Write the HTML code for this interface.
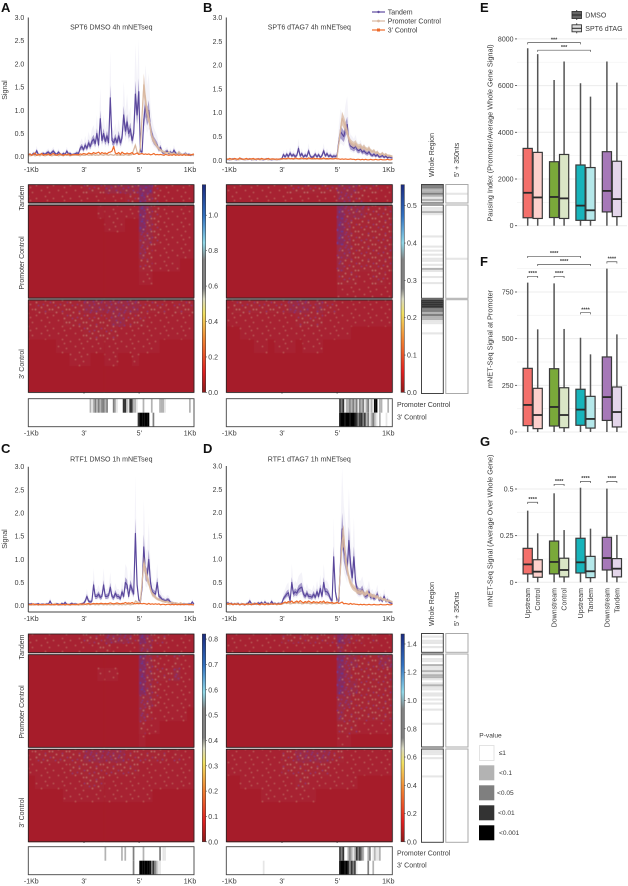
<!DOCTYPE html>
<html lang="en">
<head>
<meta charset="utf-8">
<title>mNET-seq signal figure</title>
<style>
html,body{margin:0;padding:0;background:#fff;}
svg{display:block;font-family:"Liberation Sans",sans-serif;}
text{fill:#3a3a3a;}
.letter{font-size:13px;font-weight:bold;fill:#111;}
</style>
</head>
<body>
<svg id="figure" xmlns="http://www.w3.org/2000/svg" width="628" height="886" viewBox="0 0 628 886">
<defs>
<filter id="soft" x="-2%" y="-2%" width="104%" height="104%"><feGaussianBlur stdDeviation="0.45"/></filter>
<linearGradient id="cbar" x1="0" y1="1" x2="0" y2="0">
<stop offset="0" stop-color="#8b1a1a"/><stop offset=".1" stop-color="#e02020"/><stop offset=".25" stop-color="#f08030"/><stop offset=".38" stop-color="#f0e060"/><stop offset=".45" stop-color="#d8d8c0"/><stop offset=".5" stop-color="#808080"/><stop offset=".64" stop-color="#808080"/><stop offset=".72" stop-color="#90d8e8"/><stop offset=".85" stop-color="#3070c0"/><stop offset="1" stop-color="#1a2a80"/>
</linearGradient>
<pattern id="speck-1" patternUnits="userSpaceOnUse" width="17" height="13">
<rect width="17" height="13" fill="#a72230"/>
<g fill="#c8706c"><rect x="2" y="3" width="1" height="1"/><rect x="11" y="1" width="1" height="1"/><rect x="7" y="8" width="1" height="1"/><rect x="15" y="10" width="1" height="1"/><rect x="13" y="5" width="1" height="1"/></g>
</pattern>
<pattern id="speck-2" patternUnits="userSpaceOnUse" width="17" height="13">
<rect width="17" height="13" fill="#a62636"/>
<g fill="#d08a84"><rect x="2" y="3" width="1" height="1"/><rect x="11" y="1" width="1" height="1"/><rect x="7" y="8" width="1" height="1"/><rect x="15" y="10" width="1" height="1"/><rect x="5" y="0" width="1" height="1"/><rect x="13" y="6" width="1" height="1"/><rect x="1" y="10" width="1" height="1"/></g>
<g fill="#6a3f90"><rect x="9" y="5" width="1" height="1"/><rect x="4" y="6" width="1" height="1"/><rect x="16" y="3" width="1" height="1"/><rect x="11" y="12" width="1" height="1"/></g>
</pattern>
<pattern id="speck-3" patternUnits="userSpaceOnUse" width="17" height="13">
<rect width="17" height="13" fill="#9c2a42"/>
<g fill="#d08a84"><rect x="2" y="3" width="1" height="1"/><rect x="11" y="1" width="1" height="1"/><rect x="7" y="8" width="1" height="1"/><rect x="15" y="10" width="1" height="1"/><rect x="13" y="4" width="1" height="1"/></g>
<g fill="#5040a0"><rect x="5" y="0" width="1" height="1"/><rect x="9" y="5" width="1" height="1"/><rect x="4" y="6" width="1" height="1"/><rect x="16" y="3" width="1" height="1"/><rect x="11" y="12" width="1" height="1"/><rect x="1" y="10" width="1" height="1"/><rect x="8" y="2" width="1" height="1"/><rect x="14" y="8" width="1" height="1"/><rect x="0" y="1" width="1" height="1"/><rect x="6" y="11" width="1" height="1"/></g>
</pattern>
<pattern id="speck-4" patternUnits="userSpaceOnUse" width="17" height="13">
<rect width="17" height="13" fill="#882c5c"/>
<g fill="#d08a90"><rect x="2" y="3" width="1" height="1"/><rect x="11" y="1" width="1" height="1"/><rect x="7" y="8" width="1" height="1"/></g>
<g fill="#4040a8"><rect x="5" y="0" width="2" height="1"/><rect x="9" y="5" width="2" height="1"/><rect x="4" y="6" width="1" height="2"/><rect x="16" y="3" width="1" height="2"/><rect x="11" y="11" width="2" height="1"/><rect x="1" y="10" width="2" height="1"/><rect x="8" y="2" width="1" height="1"/><rect x="14" y="8" width="1" height="2"/><rect x="0" y="1" width="1" height="1"/><rect x="6" y="11" width="1" height="1"/><rect x="13" y="3" width="1" height="1"/></g>
</pattern>
</defs>

<g>
<text class="letter" x="1" y="12">A</text>
<text class="letter" x="203" y="12">B</text>
<text class="letter" x="1" y="453">C</text>
<text class="letter" x="203" y="453">D</text>
<text class="letter" x="480" y="12">E</text>
<text class="letter" x="480" y="266">F</text>
<text class="letter" x="480" y="446">G</text>
</g>

<g font-size="7">
<g><line x1="372" x2="385" y1="12" y2="12" stroke="#5f4b9f" stroke-width="1.2"/><circle cx="378.5" cy="12" r="1.2" fill="#5f4b9f"/><text x="387.7" y="14.5">Tandem</text></g>
<g><line x1="372" x2="385" y1="21" y2="21" stroke="#d9b8a0" stroke-width="1.2"/><circle cx="378.5" cy="21" r="1.4" fill="#d9b8a0"/><text x="387.7" y="23.5">Promoter Control</text></g>
<g><line x1="372" x2="385" y1="30" y2="30" stroke="#ee6a2a" stroke-width="1.2"/><rect x="377" y="28.5" width="3" height="3" fill="#ee6a2a"/><text x="387.7" y="32.5">3' Control</text></g>
</g>

<g font-size="7">
<text transform="translate(434,177) rotate(-90)">Whole Region</text>
<text transform="translate(459,177) rotate(-90)">5' + 350nts</text>
<text transform="translate(434,626) rotate(-90)">Whole Region</text>
<text transform="translate(459,626) rotate(-90)">5' + 350nts</text>
</g>

<g font-size="6.6">
<text x="479.3" y="737.5">P-value</text>
<g><rect x="479.5" y="745.5" width="14.5" height="15" fill="#fff" stroke="#ddd" stroke-width=".8"/><text x="498.7" y="755">≤1</text></g>
<g><rect x="479" y="765.3" width="15.3" height="15" fill="#b3b3b3"/><text x="499" y="775">&lt;0.1</text></g>
<g><rect x="479" y="785.3" width="15.3" height="15" fill="#7f7f7f"/><text x="497" y="795">&lt;0.05</text></g>
<g><rect x="479" y="805.3" width="15.3" height="15" fill="#333"/><text x="498" y="815">&lt;0.01</text></g>
<g><rect x="479" y="825.3" width="15.3" height="15" fill="#000"/><text x="499" y="835">&lt;0.001</text></g>
</g>

<g font-size="7">
<g><line x1="576.7" x2="576.7" y1="10" y2="20" stroke="#444"/><rect x="572" y="11.5" width="9.5" height="7" fill="#666" stroke="#333" stroke-width=".9"/><line x1="572" x2="581.5" y1="15" y2="15" stroke="#222"/><text x="585.3" y="17.5">DMSO</text></g>
<g><line x1="576.7" x2="576.7" y1="23.3" y2="33.3" stroke="#444"/><rect x="572" y="24.8" width="9.5" height="7" fill="#ddd" stroke="#333" stroke-width=".9"/><line x1="572" x2="581.5" y1="28.3" y2="28.3" stroke="#222"/><text x="585.3" y="30.8">SPT6 dTAG</text></g>
</g>
</svg>

<script>
/* ---------- line chart values (one value per position bin) ---------- */
const signalTicks=[0,0.5,1,1.5,2,2.5,3];
const positionLabels=["-1Kb","3'","5'","1Kb"];
const tandemA=[.04,.05,.03,.07,.05,.13,.05,.04,.06,.07,.05,.08,.1,.06,.09,.12,.07,.05,.1,.06,.04,.07,.05,.12,.06,.07,.04,.05,.06,.08,.07,.18,.22,.15,.25,.18,.3,.22,.33,.38,.28,.5,.25,.82,.35,.5,.33,.45,.3,1.27,.35,.3,.4,.3,.45,.3,.4,.9,.55,.75,.5,.6,.35,.5,1.35,.9,1.4,.12,.1,.8,1.1,.85,1,.6,.45,.35,.3,.25,.15,.2,.1,.08,.1,.12,.07,.1,.06,.14,.08,.05,.09,.06,.04,.05,.07,.04,.05,.03,.04,.03];
const promoterA=[.03,.02,.03,.04,.02,.03,.03,.02,.04,.03,.02,.03,.04,.03,.02,.03,.03,.04,.02,.03,.03,.02,.04,.03,.03,.02,.03,.03,.04,.03,.03,.02,.04,.03,.03,.05,.03,.04,.03,.05,.03,.04,.03,.05,.04,.03,.05,.04,.03,.05,.04,.03,.05,.03,.04,.03,.04,.03,.05,.04,.03,.04,.05,.15,.25,.1,.05,.2,.9,1.55,1.2,.95,.85,.6,.4,.35,.28,.22,.17,.14,.12,.1,.09,.08,.1,.07,.06,.08,.05,.06,.1,.06,.05,.04,.06,.04,.03,.05,.03,.03];
const threeA=[.04,.06,.03,.05,.08,.03,.05,.04,.07,.03,.05,.04,.06,.03,.05,.07,.04,.03,.05,.06,.04,.03,.05,.04,.06,.03,.04,.05,.04,.05,.04,.06,.05,.07,.06,.05,.08,.07,.06,.09,.07,.08,.1,.06,.09,.07,.08,.06,.09,.1,.12,.22,.08,.06,.09,.05,.1,.07,.06,.08,.06,.07,.09,.05,.06,.08,.05,.06,.07,.05,.06,.05,.06,.04,.05,.07,.04,.05,.04,.05,.04,.03,.05,.04,.03,.04,.03,.05,.03,.04,.03,.04,.03,.05,.03,.04,.03,.04,.05,.06];
const tandemB=[.02,.02,.01,.02,.03,.02,.01,.02,.02,.03,.02,.01,.02,.02,.03,.01,.02,.02,.01,.03,.02,.02,.01,.02,.03,.02,.02,.01,.02,.02,.01,.02,.02,.03,.12,.07,.13,.08,.15,.09,.12,.08,.1,.25,.09,.14,.07,.11,.08,.2,.09,.06,.08,.13,.07,.12,.06,.1,.2,.09,.14,.08,.11,.07,.09,.08,.1,.4,.6,.55,.5,.65,.75,.4,.3,.28,.25,.3,.22,.2,.24,.17,.2,.16,.14,.18,.12,.1,.13,.09,.12,.07,.08,.1,.06,.09,.05,.07,.06,.05];
const promoterB=[.02,.02,.02,.01,.02,.02,.02,.01,.02,.02,.02,.01,.02,.02,.02,.02,.01,.02,.02,.02,.01,.02,.02,.02,.02,.01,.02,.02,.02,.02,.01,.02,.02,.02,.03,.03,.02,.03,.03,.03,.02,.03,.03,.03,.02,.03,.03,.03,.02,.03,.03,.03,.02,.03,.03,.03,.02,.03,.03,.03,.02,.03,.03,.03,.03,.04,.06,.35,.65,.88,.8,.7,.6,.45,.38,.35,.33,.36,.3,.28,.3,.25,.28,.24,.22,.25,.2,.18,.2,.15,.17,.13,.12,.15,.11,.13,.1,.1,.09,.08];
const threeB=[.03,.02,.04,.03,.02,.04,.03,.02,.05,.03,.02,.03,.04,.02,.03,.03,.04,.02,.03,.03,.02,.04,.03,.02,.03,.04,.02,.03,.03,.02,.03,.02,.03,.03,.04,.03,.04,.05,.03,.04,.03,.05,.04,.03,.04,.05,.03,.04,.03,.05,.04,.03,.05,.03,.04,.03,.04,.03,.05,.03,.04,.03,.04,.03,.03,.04,.03,.03,.02,.03,.02,.03,.02,.02,.03,.02,.02,.01,.02,.02,.01,.02,.01,.02,.01,.01,.02,.01,.01,.02,.01,.01,.02,.01,.01,.01,.02,.01,.01,.02];
const tandemC=[.04,.03,.04,.02,.03,.03,.04,.02,.03,.03,.02,.04,.03,.1,.03,.02,.03,.04,.03,.02,.05,.03,.07,.03,.02,.03,.05,.03,.04,.03,.02,.03,.04,.05,.1,.2,.1,.08,.1,.45,.2,.2,.25,.18,.2,.45,.2,.2,.22,.4,.2,.17,.27,.2,.2,.15,.3,.2,.5,.45,.2,.45,.35,.25,1.56,.45,.12,.08,.4,1.27,.7,.65,1,.5,.3,.27,.25,.5,.2,.18,.13,.12,.1,.13,.12,.07,.06,.05,.04,.04,.03,.04,.03,.04,.03,.03,.04,.03,.08,.03];
const promoterC=[.02,.02,.01,.02,.03,.02,.01,.02,.02,.01,.02,.03,.02,.02,.01,.02,.05,.02,.01,.04,.02,.02,.01,.02,.02,.01,.02,.02,.03,.02,.01,.02,.02,.02,.03,.02,.03,.02,.03,.03,.02,.03,.02,.03,.03,.02,.03,.02,.03,.02,.03,.02,.03,.03,.02,.03,.02,.03,.02,.03,.03,.02,.03,.03,.1,.08,.05,.1,.5,.92,.75,.6,.5,.35,.25,.22,.18,.15,.13,.12,.1,.09,.08,.09,.07,.06,.07,.05,.06,.05,.04,.06,.04,.03,.04,.03,.03,.02,.03,.02];
const threeC=[.03,.02,.03,.04,.02,.03,.02,.03,.02,.03,.03,.02,.03,.02,.03,.03,.02,.03,.02,.03,.02,.03,.02,.03,.03,.02,.03,.03,.02,.03,.03,.04,.03,.04,.03,.04,.05,.03,.04,.05,.04,.05,.04,.05,.05,.04,.05,.04,.05,.06,.05,.04,.05,.06,.05,.04,.05,.05,.07,.05,.06,.05,.07,.05,.04,.05,.04,.05,.04,.05,.04,.03,.05,.03,.04,.03,.04,.03,.04,.02,.03,.03,.02,.03,.03,.02,.03,.02,.03,.02,.03,.02,.03,.02,.03,.03,.02,.03,.02,.02];
const tandemD=[.04,.06,.03,.05,.03,.04,.03,.05,.02,.04,.03,.02,.04,.05,.1,.04,.03,.05,.03,.06,.04,.07,.03,.08,.04,.05,.03,.09,.04,.05,.03,.05,.04,.05,.15,.2,.25,.28,.1,.5,.25,.3,.27,.35,.38,.4,.25,.2,.27,.2,.2,.18,.25,.18,.3,.2,.37,.2,.5,.3,.3,.25,.15,.1,1.05,.3,.1,.1,.9,1.65,1.2,1,.8,1.4,.9,.6,1.05,.5,.35,.3,.3,.35,.25,.2,.22,.3,.18,.2,.15,.18,.25,.12,.15,.1,.2,.1,.12,.08,.06,.05];
const promoterD=[.03,.04,.02,.03,.04,.03,.05,.03,.02,.04,.03,.04,.03,.02,.04,.03,.05,.03,.04,.03,.02,.04,.03,.05,.03,.02,.04,.03,.03,.04,.02,.03,.04,.03,.05,.06,.05,.06,.04,.05,.06,.05,.07,.05,.06,.04,.05,.06,.05,.06,.04,.05,.06,.05,.04,.06,.05,.04,.06,.05,.04,.05,.06,.04,.05,.05,.06,.2,.8,1.4,1.5,1,.8,.6,.5,.42,.38,.35,.3,.3,.28,.3,.25,.25,.3,.22,.24,.2,.22,.18,.2,.15,.17,.13,.14,.12,.1,.11,.09,.08];
const threeD=[.05,.03,.05,.04,.02,.04,.03,.04,.02,.03,.04,.02,.03,.04,.03,.02,.04,.03,.05,.03,.02,.04,.03,.02,.04,.03,.03,.04,.03,.04,.03,.04,.03,.04,.06,.08,.06,.09,.07,.1,.06,.08,.1,.07,.11,.08,.06,.09,.07,.1,.08,.06,.09,.07,.08,.06,.09,.07,.1,.06,.08,.07,.06,.07,.05,.06,.07,.05,.06,.08,.04,.05,.04,.03,.05,.03,.04,.03,.03,.02,.03,.02,.03,.02,.02,.03,.02,.02,.03,.02,.02,.02,.03,.02,.02,.02,.03,.02,.02,.03];

/* ---------- heatmap speckle density (0 none .. 4 dense), rows x position columns ---------- */
const gridA=[
[1,1,1,1,1,1,1,1,2,2,2,3,3,3,3,3,4,4,2,1,1,1,1,1],
[1,1,1,1,1,1,1,1,1,1,1,1,1,1,2,2,4,3,2,1,1,1,1,1],
[0,0,0,0,0,0,0,0,0,0,1,1,1,1,1,1,4,3,2,1,1,1,1,1],
[0,0,0,0,0,0,0,0,0,0,0,1,1,1,0,0,4,3,2,1,1,1,1,1],
[0,0,0,0,0,0,0,0,0,0,0,0,0,0,0,0,3,3,2,1,1,1,1,1],
[0,0,0,0,0,0,0,0,0,0,0,0,0,0,0,0,3,2,1,1,1,1,1,1],
[0,0,0,0,0,0,0,0,0,0,0,0,0,0,0,0,2,2,1,1,1,1,0,0],
[0,0,0,0,0,0,0,0,0,0,0,0,0,0,0,0,1,1,0,0,0,0,0,0],
[0,0,0,0,0,0,0,0,0,0,0,0,0,0,0,0,0,0,0,0,0,0,0,0],
[1,2,2,2,2,2,2,2,3,3,3,3,3,3,3,3,2,2,2,2,1,2,2,2],
[1,1,1,1,1,2,2,2,2,2,2,2,3,3,2,2,2,1,1,1,1,1,1,1],
[1,1,1,1,1,1,1,1,2,2,2,2,2,1,1,1,1,1,1,1,1,1,1,1],
[0,0,0,0,1,1,1,1,1,1,1,1,1,1,1,1,1,1,1,0,0,0,0,0],
[0,0,0,0,0,0,1,1,1,0,0,1,1,0,0,1,0,0,0,0,0,0,0,0],
[0,0,0,0,0,0,0,0,0,0,0,0,0,0,0,0,0,0,0,0,0,0,0,0],
[0,0,0,0,0,0,0,0,0,0,0,0,0,0,0,0,0,0,0,0,0,0,0,0]];
const gridB=[
[1,1,1,1,1,1,1,1,1,2,2,2,2,2,2,2,3,3,3,2,2,2,1,1],
[1,1,1,1,1,1,1,1,1,1,1,1,1,1,1,1,3,3,2,2,1,1,1,1],
[0,0,0,0,0,0,0,0,0,0,0,0,0,0,0,0,4,3,3,3,2,2,2,2],
[0,0,0,0,0,0,0,0,0,0,0,0,0,0,0,0,4,3,2,2,2,2,2,2],
[0,0,0,0,0,0,0,0,0,0,0,0,0,0,0,0,4,3,2,2,2,2,2,2],
[0,0,0,0,0,0,0,0,0,0,0,0,0,0,0,0,3,3,2,2,2,2,2,2],
[0,0,0,0,0,0,0,0,0,0,0,0,0,0,0,0,3,2,2,2,2,2,2,2],
[0,0,0,0,0,0,0,0,0,0,0,0,0,0,0,0,2,2,2,1,1,2,2,1],
[0,0,0,0,0,0,0,0,0,0,0,0,0,0,0,0,1,1,1,1,1,1,1,1],
[1,2,2,2,2,2,2,2,2,3,3,3,2,3,2,2,1,1,1,1,1,1,1,1],
[1,1,1,1,1,1,1,1,1,1,2,2,2,2,1,1,1,1,1,1,1,1,1,1],
[0,0,1,1,1,1,1,1,1,1,1,1,1,1,1,1,1,1,0,0,0,0,0,0],
[0,0,0,0,1,1,0,1,1,1,0,1,1,1,0,0,0,0,0,0,0,0,0,0],
[0,0,0,0,0,0,0,0,0,0,0,0,0,0,0,0,0,0,0,0,0,0,0,0],
[0,0,0,0,0,0,0,0,0,0,0,0,0,0,0,0,0,0,0,0,0,0,0,0],
[0,0,0,0,0,0,0,0,0,0,0,0,0,0,0,0,0,0,0,0,0,0,0,0]];
const gridC=[
[1,1,1,1,1,1,1,1,2,2,2,3,3,3,3,2,4,3,2,2,1,1,1,1],
[1,1,1,1,1,1,1,1,1,1,2,2,1,1,1,1,3,3,1,1,1,1,1,1],
[0,0,0,0,0,0,0,0,0,0,0,0,0,0,0,0,4,3,2,1,1,2,1,1],
[0,0,0,0,0,0,0,0,0,0,1,1,1,0,0,0,4,3,2,2,2,3,1,1],
[0,0,0,0,0,0,0,0,0,0,0,0,0,0,0,0,4,3,2,1,1,1,1,1],
[0,0,0,0,0,0,0,0,0,0,0,0,0,0,0,0,3,3,2,1,1,1,1,1],
[0,0,0,0,0,0,0,0,0,0,0,0,0,0,0,0,3,2,1,1,1,1,1,0],
[0,0,0,0,0,0,0,0,0,0,0,0,0,0,0,0,2,1,1,0,0,0,0,0],
[0,0,0,0,0,0,0,0,0,0,0,0,0,0,0,0,1,0,0,0,0,0,0,0],
[1,2,2,2,2,2,2,2,3,3,3,3,3,3,2,2,2,2,2,2,1,2,1,1],
[1,1,1,1,1,1,2,2,2,2,2,2,2,2,2,2,1,1,1,1,1,1,1,1],
[0,1,1,1,1,1,1,1,2,2,2,1,1,1,1,1,1,1,1,1,1,1,1,1],
[0,0,0,0,0,1,1,1,1,1,1,1,1,1,1,1,1,1,0,0,0,0,0,0],
[0,0,0,0,0,0,0,0,0,0,0,0,0,0,0,0,0,0,0,0,0,0,0,0],
[0,0,0,0,0,0,0,0,0,0,0,0,0,0,0,0,0,0,0,0,0,0,0,0],
[0,0,0,0,0,0,0,0,0,0,0,0,0,0,0,0,0,0,0,0,0,0,0,0]];
const gridD=[
[1,1,1,1,1,1,1,1,2,2,2,2,2,2,2,2,4,3,2,2,1,2,1,1],
[1,1,1,1,1,1,1,1,1,1,1,1,1,1,1,1,3,2,1,1,1,1,1,1],
[0,0,0,0,0,0,0,0,0,0,0,0,0,0,0,0,4,3,3,2,2,2,3,3],
[0,0,0,0,0,0,0,0,0,0,0,0,0,0,0,0,4,3,2,2,2,2,2,2],
[0,0,0,0,0,0,0,0,0,0,0,0,0,0,0,0,4,3,3,2,2,2,2,2],
[0,0,0,0,0,0,0,0,0,0,0,0,0,0,0,0,3,3,2,2,2,2,2,2],
[0,0,0,0,0,0,0,0,0,0,0,0,0,0,0,0,3,2,2,2,2,2,2,2],
[0,0,0,0,0,0,0,0,0,0,0,0,0,0,0,0,2,2,2,1,1,1,1,1],
[0,0,0,0,0,0,0,0,0,0,0,0,0,0,0,0,1,1,0,0,0,0,0,0],
[1,1,1,1,1,1,1,1,2,2,3,3,3,3,3,2,2,1,1,1,1,1,1,1],
[1,1,1,1,1,1,1,1,2,2,2,2,2,2,2,1,1,1,1,1,1,1,1,1],
[0,0,1,1,1,1,1,1,1,1,2,2,1,1,1,1,1,1,1,0,0,0,0,0],
[0,0,0,0,0,1,1,1,1,1,1,1,1,0,0,0,0,0,0,0,0,0,0,0],
[0,0,0,0,0,0,0,0,0,0,0,0,0,0,0,0,0,0,0,0,0,0,0,0],
[0,0,0,0,0,0,0,0,0,0,0,0,0,0,0,0,0,0,0,0,0,0,0,0],
[0,0,0,0,0,0,0,0,0,0,0,0,0,0,0,0,0,0,0,0,0,0,0,0]];

/* ---------- colour-bar tick labels ---------- */
const colorTicksA=[0,0.2,0.4,0.6,0.8,1.0];
const colorTicksB=[0,0.1,0.2,0.3,0.4,0.5];
const colorTicksC=[0,0.1,0.2,0.3,0.4,0.5,0.6,0.7,0.8];
const colorTicksD=[0,0.2,0.4,0.6,0.8,1.0,1.2,1.4];

/* ---------- p-value levels: 0 white .. 5 black ---------- */
const stripPromoterA=[0,0,0,0,0,0,0,0,0,0,0,0,0,0,0,0,0,0,0,0,0,0,0,0,0,0,0,0,0,0,0,0,0,0,0,0,0,2,1,2,3,2,3,2,3,3,2,3,0,0,0,3,2,1,0,0,0,4,4,2,1,4,4,2,2,1,0,0,0,2,0,0,0,0,2,0,0,0,0,2,2,2,1,0,0,0,0,0,0,0,0,0,0,0,0,0,0,2,0,0];
const stripThreeA=[0,0,0,0,0,0,0,0,0,0,0,0,0,0,0,0,0,0,0,0,0,0,0,0,0,0,0,0,0,0,0,0,0,0,0,0,0,0,0,0,0,0,0,0,0,0,0,0,0,0,0,0,0,0,0,0,0,0,0,0,0,0,0,0,0,0,4,5,5,5,5,5,5,0,0,3,0,0,0,0,0,0,0,0,0,0,0,0,0,0,0,0,0,0,0,0,0,0,0,0];
const stripPromoterB=[0,0,0,0,0,0,0,0,0,0,0,0,0,0,0,0,0,0,0,0,0,0,0,0,0,0,0,0,0,0,0,0,0,0,0,0,0,0,0,0,0,0,0,0,0,0,0,0,0,0,0,0,0,0,0,0,0,0,0,0,0,0,0,0,0,0,0,0,4,3,4,0,2,2,3,2,3,2,3,1,3,2,3,1,2,3,1,2,1,5,5,0,2,2,0,0,0,2,0,0];
const stripThreeB=[0,0,0,0,0,0,0,0,0,0,0,0,0,0,0,0,0,0,0,0,0,0,0,0,0,0,0,0,0,0,0,0,0,0,0,0,0,0,0,0,0,0,0,0,0,0,0,0,0,0,0,0,0,0,0,0,0,0,0,0,0,0,0,0,0,0,0,0,5,5,5,5,5,5,5,5,5,5,4,3,4,4,3,4,2,3,1,2,3,2,1,0,2,0,0,0,1,0,0,0];
const stripPromoterC=[0,0,0,0,0,0,0,0,0,0,0,0,0,0,0,0,0,0,0,0,0,0,0,0,0,0,0,0,0,0,0,0,0,0,0,0,0,0,0,0,0,0,0,0,0,0,2,0,0,0,0,0,0,0,0,0,2,0,2,0,0,0,0,3,0,0,0,0,0,2,0,0,0,0,0,0,0,0,0,3,0,1,1,0,0,0,0,0,0,0,0,0,0,0,0,0,0,0,0,0];
const stripThreeC=[0,0,0,0,0,0,0,0,0,0,0,0,0,0,0,0,0,0,0,0,0,0,0,0,0,0,0,0,0,0,0,0,0,0,0,0,0,0,0,0,0,0,0,0,0,0,0,0,0,0,0,0,0,0,0,0,0,0,0,0,0,0,0,3,0,0,0,5,5,5,5,5,5,5,3,4,3,2,1,1,0,0,0,0,0,0,0,0,0,0,0,0,0,0,0,0,0,0,0,0];
const stripPromoterD=[0,0,0,0,0,0,0,0,0,0,0,0,0,0,0,0,0,0,0,0,0,0,0,0,0,0,0,0,0,0,0,0,0,0,0,0,0,0,0,0,0,0,0,0,0,0,0,0,0,0,0,0,0,0,0,0,0,0,0,0,0,0,0,0,0,0,0,0,4,3,4,0,0,2,3,2,1,2,4,3,4,3,2,0,0,2,3,0,1,2,1,1,2,0,0,0,0,0,0,0];
const stripThreeD=[0,0,0,0,0,0,0,0,0,0,0,0,0,0,0,0,0,0,0,0,0,0,1,0,0,0,0,0,0,0,0,0,0,0,0,0,0,0,0,0,0,0,0,0,0,0,0,0,0,0,0,0,0,0,0,0,0,0,0,0,0,0,0,0,0,0,0,0,5,5,5,5,5,4,3,4,3,4,1,0,0,0,0,0,0,3,0,0,2,0,0,0,0,0,0,0,0,0,0,0];
const wholeTandemB=[3,3,2,2,3,2,1,2,1];
const wholePromoterB=[0,1,1,2,1,0,0,0,0,0,0,0,0,0,0,1,0,0,0,0,1,0,1,0,1,0,1,1,0,1,0,2,1,0,0,1,0,0,1];
const whole3B=[4,4,4,4,3,3,2,3,2,2,1,1,0,0,0,0,1];
const wholeTandemD=[0,1,0,1,1,0,1,0,0];
const wholePromoterD=[1,0,1,1,0,2,1,1,2,1,2,2,1,0,1,2,1,1,0,1,1,0,1,0,1,0,0,1,0,0,0,0,0,0,1];
const whole3D=[1,1,1,0,1,0,0,0,0,0,0,0,0,1];
const fiveTandemB=[0,0,0,0,1];
const fivePromoterB=[0,0,0,0,0,0,0,0,0,0,0,0,0,0,0,0,0,0,0,0,0,0,0,0,0,0,1];
const five3B=[];
const fiveTandemD=[];
const fivePromoterD=[];
const five3D=[];

/* ---------- box plots ---------- */
const boxCategories=["Upstream Control DMSO","Upstream Control dTAG","Downstream Control DMSO","Downstream Control dTAG","Upstream Tandem DMSO","Upstream Tandem dTAG","Downstream Tandem DMSO","Downstream Tandem dTAG"];
const pausingLow=[0,0,0,0,0,0,0,0];
const pausingQ1=[340,310,350,310,230,230,590,390];
const pausingMedian=[1410,1210,1230,1170,860,660,1490,1140];
const pausingQ3=[3310,3140,2740,3050,2600,2490,3170,2760];
const pausingHigh=[7600,7350,6240,7030,6100,5530,7030,6130];
const pausingTicks=[0,2000,4000,6000,8000];
const promoterLow=[0,0,0,0,0,0,0,0];
const promoterQ1=[34,18,32,23,36,21,62,27];
const promoterMedian=[145,91,134,91,120,70,187,107];
const promoterQ3=[341,234,339,237,229,191,402,241];
const promoterHigh=[800,550,796,552,505,416,875,523];
const promoterTicks=[0,250,500,750];
const geneLow=[0,0,0,0,0,0,0,0];
const geneQ1=[.045,.027,.045,.029,.05,.025,.066,.029];
const geneMedian=[.096,.057,.109,.066,.107,.059,.13,.073];
const geneQ3=[.182,.121,.221,.129,.236,.139,.241,.127];
const geneHigh=[.384,.2625,.477,.28,.507,.2875,.502,.254];
const geneTicks=[0,.25,.5];
const geneTickLabels=["0","0.25","0.5"];
const pausingBrackets=[[0,4,7840,"***"],[1,5,7516,"***"]];
const promoterBrackets=[[0,4,941,"****"],[1,5,898,"****"],[0,1,834,"****"],[2,3,834,"****"],[4,5,639,"****"],[6,7,912,"****"]];
const geneBrackets=[[0,1,.429,"****"],[2,3,.525,"****"],[4,5,.541,"****"],[6,7,.541,"****"]];
const groupWords=[["Upstream","Control"],["Downstream","Control"],["Upstream","Tandem"],["Downstream","Tandem"]];

/* ---------- drawing ---------- */
const NS="http://www.w3.org/2000/svg";
const svg=document.getElementById('figure');
const levelColors=["#ffffff","#e6e6e6","#b3b3b3","#7f7f7f","#333333","#000000"];
const boxFills=["#f4706b","#fdd0cc","#7aa93a","#dae6c6","#17b4bb","#b5e8ea","#a678b8","#e4d6ea"];
function mk(tag,attrs,parent){
  const el=document.createElementNS(NS,tag);
  for(const k in attrs) el.setAttribute(k,attrs[k]);
  parent.appendChild(el);
  return el;
}
function axisLabelX(xL,xR,i){
  return [xL+3,xL+55.7,xL+111,xR-4][i];
}
function drawRibbon(values,xf,yf,hi,lo,pad,color,opacity,parent){
  const up=values.map((v,i)=>xf(i).toFixed(1)+","+yf(v*hi+pad).toFixed(1));
  const dn=values.map((v,i)=>xf(i).toFixed(1)+","+yf(Math.max(0,v*lo-pad)).toFixed(1)).reverse();
  const rb=mk('polygon',{points:up.concat(dn).join(' '),fill:color,opacity:opacity},parent);
  
  
}
function drawLine(values,xf,yf,color,width,name,parent){
  const pl=mk('polyline',{points:values.map((v,i)=>xf(i).toFixed(1)+","+yf(v).toFixed(1)).join(' '),fill:'none',stroke:color,'stroke-width':width,'stroke-linejoin':'round'},parent);
  
  
}
function drawLinePanel(p,tandem,promoter,three){
  const g=mk('g',{},svg);
  
  
  const yf=v=>p.y0-v*(p.y0-p.y3)/3;
  const xf=i=>p.xL+i/(tandem.length-1)*(p.xR-p.xL);
  drawRibbon(tandem,xf,yf,1.8,.6,0,'#6a56a8',.07,g);
  drawRibbon(tandem,xf,yf,1.2,.8,.015,'#6a56a8',.55,g);
  drawLine(tandem,xf,yf,'#5a479c',1.15,'tandem-line',g);
  drawRibbon(promoter,xf,yf,1.15,.85,.01,'#d9b8a0',.75,g);
  drawLine(promoter,xf,yf,'#d9b8a0',1.2,'promoter-control-line',g);
  drawLine(three,xf,yf,'#ee6a2a',1.2,'three-prime-control-line',g);
  const ya=mk('line',{x1:p.xL,x2:p.xL,y1:p.y3,y2:p.axisY,stroke:'#444','stroke-width':1},g);
  
  
  const xa=mk('line',{x1:p.xL,x2:p.xR,y1:p.axisY,y2:p.axisY,stroke:'#444','stroke-width':1},g);
  
  
  signalTicks.forEach(t=>{
    const lb=mk('text',{x:p.xL-4,y:yf(t)+2.5,'text-anchor':'end','font-size':7},g);
    lb.textContent=t.toFixed(1);
    
    
  });
  positionLabels.forEach((t,i)=>{
    const lb=mk('text',{x:axisLabelX(p.xL,p.xR,i),y:p.axisY+9,'text-anchor':'middle','font-size':7},g);
    lb.textContent=t;
    
    
  });
  const ti=mk('text',{x:p.xL+p.titleDx,y:p.titleY,'text-anchor':'middle','font-size':7},g);
  ti.textContent=p.title;
  
  
  if(p.signal){
    const yt=mk('text',{transform:'translate(7,'+p.signal+') rotate(-90)','text-anchor':'middle','font-size':7},g);
    yt.textContent='Signal';
    
    
  }
}
function drawHeatmap(p,grid,ticks,strip1,strip2){
  const g=mk('g',{},svg);
  
  
  const bg=mk('rect',{x:p.xL,y:p.top,width:p.xR-p.xL,height:p.bottom-p.top,fill:p.sepColor},g);
  
  
  const cols=grid[0].length;
  const cw=(p.xR-p.xL)/cols;
  const bands=[[p.top,p.t1,0,2],[p.p0,p.p1,2,7],[p.q0,p.bottom,9,7]];
  bands.forEach(b=>{
    const rh=(b[1]-b[0])/b[3];
    const base=mk('rect',{x:p.xL,y:b[0],width:p.xR-p.xL,height:b[1]-b[0],fill:'#a61c2a'},g);
    
    
    const cells=mk('g',{filter:'url(#soft)'},g);
    
    
    for(let r=0;r<b[3];r++){
      const row=grid[b[2]+r];
      row.forEach((v,c)=>{
        const cell=mk('rect',{x:(p.xL+c*cw).toFixed(2),y:(b[0]+r*rh).toFixed(2),width:cw.toFixed(2),height:rh.toFixed(2),fill:v>0?'url(#speck-'+v+')':'#a61c2a','shape-rendering':'crispEdges'},cells);
        
        
      });
    }
    const fr=mk('rect',{x:p.xL,y:b[0],width:p.xR-p.xL,height:b[1]-b[0],fill:'none',stroke:'#222','stroke-width':.8},g);
    
    
  });
  [55.7,110.8].forEach(dx=>{
    const tk=mk('line',{x1:p.xL+dx,x2:p.xL+dx,y1:p.bottom,y2:p.bottom+1.2,stroke:'#333','stroke-width':.8},g);
    
    
  });
  /* colour bar */
  const bar=mk('rect',{x:p.barX,y:p.top,width:3.4,height:p.bottom-p.top,fill:'url(#cbar)',stroke:'#333','stroke-width':.5},g);
  
  
  ticks.forEach(t=>{
    const ty=p.bottom-t*p.barScale;
    const tk=mk('line',{x1:p.barX+3.4,x2:p.barX+4.6,y1:ty,y2:ty,stroke:'#333','stroke-width':.6},g);
    
    
    const lb=mk('text',{x:p.barX+6,y:ty+2.5,'font-size':7},g);
    lb.textContent=t.toFixed(1);
    
    
  });
  /* significance strip */
  const sg=mk('g',{},svg);
  
  
  const sMid=(p.stripTop+p.stripBottom)/2;
  const bw=(p.xR-p.xL)/strip1.length;
  [[strip1,p.stripTop,sMid],[strip2,sMid,p.stripBottom]].forEach(row=>{
    row[0].forEach((v,i)=>{
      if(!v) return;
      const r=mk('rect',{x:(p.xL+i*bw).toFixed(2),y:row[1],width:(bw+.05).toFixed(2),height:row[2]-row[1],fill:levelColors[v]},sg);
      
      
    });
  });
  const sf=mk('rect',{x:p.xL,y:p.stripTop,width:p.xR-p.xL,height:p.stripBottom-p.stripTop,fill:'none',stroke:'#444','stroke-width':.9},sg);
  
  
  positionLabels.forEach((t,i)=>{
    const lb=mk('text',{x:axisLabelX(p.xL,p.xR,i),y:p.stripBottom+9,'text-anchor':'middle','font-size':7},sg);
    lb.textContent=t;
    
    
  });
}
function drawGroupLabels(x,entries){
  entries.forEach(e=>{
    const lb=mk('text',{transform:'translate('+x+','+e[1]+') rotate(-90)','text-anchor':'middle','font-size':7},svg);
    lb.textContent=e[0];
    
    
  });
}
function drawColumn(c,tand,prom,three){
  const g=mk('g',{},svg);
  
  
  const w=c.xR-c.xL;
  [[tand,c.a0,c.a1],[prom,c.b0,c.b1],[three,c.c0,c.c1]].forEach(seg=>{
    const bh=(seg[2]-seg[1])/(seg[0]===tand?9:46);
    const base=mk('rect',{x:c.xL,y:seg[1],width:w,height:seg[2]-seg[1],fill:'#fff'},g);
    
    
    seg[0].forEach((v,i)=>{
      if(!v) return;
      const r=mk('rect',{x:c.xL,y:(seg[1]+i*bh).toFixed(2),width:w,height:(bh+.05).toFixed(2),fill:levelColors[v]},g);
      
      
    });
    const f=mk('rect',{x:c.xL,y:seg[1],width:w,height:seg[2]-seg[1],fill:'none',stroke:c.stroke,'stroke-width':1},g);
    
    
  });
}
function drawStripLabels(y1,y2){
  [["Promoter Control",y1],["3' Control",y2]].forEach(e=>{
    const lb=mk('text',{x:397,y:e[1],'font-size':7},svg);
    lb.textContent=e[0];
    
    
  });
}
function boxX(i){ return 527.7+26.4*Math.floor(i/2)+(i%2)*10; }
function drawBoxPanel(p,low,q1,med,q3,high,ticks,labels,brackets){
  const g=mk('g',{},svg);
  
  
  const yf=v=>p.y0-v*p.k;
  p.minor.forEach(t=>{
    const l=mk('line',{x1:517,x2:627,y1:yf(t),y2:yf(t),stroke:'#f3f3f3','stroke-width':.8},g);
    
    
  });
  ticks.forEach((t,i)=>{
    const l=mk('line',{x1:517,x2:627,y1:yf(t),y2:yf(t),stroke:'#ececec','stroke-width':1},g);
    
    
    const tk=mk('line',{x1:515,x2:517,y1:yf(t),y2:yf(t),stroke:'#444','stroke-width':.8},g);
    
    
    const lb=mk('text',{x:513.5,y:yf(t)+2.5,'text-anchor':'end','font-size':7},g);
    lb.textContent=labels?labels[i]:String(t);
    
    
  });
  boxCategories.forEach((name,i)=>{
    const cx=boxX(i);
    const wh=mk('line',{x1:cx,x2:cx,y1:yf(high[i]),y2:yf(low[i]),stroke:'#555','stroke-width':1.5},g);
    
    
    const b=mk('rect',{x:cx-4.6,y:yf(q3[i]),width:9.2,height:yf(q1[i])-yf(q3[i]),fill:boxFills[i],stroke:'#3a3a3a','stroke-width':1.2},g);
    
    
    const m=mk('line',{x1:cx-4.6,x2:cx+4.6,y1:yf(med[i]),y2:yf(med[i]),stroke:'#2a2a2a','stroke-width':1.8},g);
    
    
  });
  brackets.forEach(br=>{
    const x1=boxX(br[0]),x2=boxX(br[1]),y=yf(br[2]);
    const pa=mk('polyline',{points:x1+','+(y+1.7)+' '+x1+','+y+' '+x2+','+y+' '+x2+','+(y+1.7),fill:'none',stroke:'#555','stroke-width':.7},g);
    
    
    const st=mk('text',{x:(x1+x2)/2,y:y-1.3,'text-anchor':'middle','font-size':5.5,'font-weight':'bold'},g);
    st.textContent=br[3];
    
    
  });
  const ti=mk('text',{transform:'translate(492.5,'+p.titleY+') rotate(-90)','text-anchor':'middle','font-size':p.titleSize},g);
  ti.textContent=p.title;
  
  
}

drawLinePanel({id:'a',xL:28.3,xR:194,y0:156.7,y3:17.5,axisY:163,title:'SPT6 DMSO 4h mNETseq',titleDx:83,titleY:29.5,signal:90},tandemA,promoterA,threeA);
drawLinePanel({id:'b',xL:226.3,xR:392.5,y0:160.3,y3:17.5,axisY:163,title:'SPT6 dTAG7 4h mNETseq',titleDx:83,titleY:29.5},tandemB,promoterB,threeB);
drawLinePanel({id:'c',xL:28.3,xR:194,y0:605.7,y3:466.7,axisY:612,title:'RTF1 DMSO 1h mNETseq',titleDx:83,titleY:461.5,signal:539},tandemC,promoterC,threeC);
drawLinePanel({id:'d',xL:226.3,xR:392.5,y0:605.7,y3:466,axisY:612,title:'RTF1 dTAG7 1h mNETseq',titleDx:83,titleY:461.5},tandemD,promoterD,threeD);

const upperRows={top:184.7,t1:202.7,p0:205.3,p1:298,q0:300,bottom:392.4,stripTop:398.7,stripBottom:426.7};
const lowerRows={top:634,t1:652.7,p0:654.7,p1:747.3,q0:749.3,bottom:841.8,stripTop:846.7,stripBottom:874.7};
drawHeatmap(Object.assign({id:'a',xL:28.3,xR:194,barX:202.3,barScale:177.2,sepColor:'#999'},upperRows),gridA,colorTicksA,stripPromoterA,stripThreeA);
drawHeatmap(Object.assign({id:'b',xL:226.3,xR:392.3,barX:401,barScale:373.4,sepColor:'#999'},upperRows),gridB,colorTicksB,stripPromoterB,stripThreeB);
drawHeatmap(Object.assign({id:'c',xL:28.3,xR:194,barX:202.3,barScale:253.4,sepColor:'#ddd'},lowerRows),gridC,colorTicksC,stripPromoterC,stripThreeC);
drawHeatmap(Object.assign({id:'d',xL:226.3,xR:392.3,barX:401,barScale:141.3,sepColor:'#ddd'},lowerRows),gridD,colorTicksD,stripPromoterD,stripThreeD);

drawGroupLabels(24,[["Tandem",198],["Promoter Control",263],["3' Control",364],["Tandem",647],["Promoter Control",712],["3' Control",812.7]]);
drawStripLabels(407,419.5);
drawStripLabels(855.3,867.7);

const colUpper={a0:184.5,a1:203,b0:205,b1:298.3,c0:299.7,c1:393.5};
const colLower={a0:633.5,a1:652.3,b0:654,b1:747,c0:749,c1:842.3};
drawColumn(Object.assign({name:'whole-region-column-b',xL:421.5,xR:443.3,stroke:'#444'},colUpper),wholeTandemB,wholePromoterB,whole3B);
drawColumn(Object.assign({name:'five-prime-column-b',xL:445.8,xR:468,stroke:'#aaa'},colUpper),fiveTandemB,fivePromoterB,five3B);
drawColumn(Object.assign({name:'whole-region-column-d',xL:421.5,xR:443.3,stroke:'#444'},colLower),wholeTandemD,wholePromoterD,whole3D);
drawColumn(Object.assign({name:'five-prime-column-d',xL:445.8,xR:468,stroke:'#aaa'},colLower),fiveTandemD,fivePromoterD,five3D);

drawBoxPanel({id:'e',y0:225.7,k:46.7/2000,minor:[1000,3000,5000,7000],title:'Pausing Index (Promoter/Average Whole Gene Signal)',titleY:133,titleSize:7.3},pausingLow,pausingQ1,pausingMedian,pausingQ3,pausingHigh,pausingTicks,null,pausingBrackets);
drawBoxPanel({id:'f',y0:432,k:46.67/250,minor:[125,375,625,875],title:'mNET-Seq Signal at Promoter',titleY:339,titleSize:7.3},promoterLow,promoterQ1,promoterMedian,promoterQ3,promoterHigh,promoterTicks,null,promoterBrackets);
drawBoxPanel({id:'g',y0:582.3,k:93.3/.5,minor:[.125,.375],title:'mNET-Seq Signal (Average Over Whole Gene)',titleY:530.7,titleSize:7.3},geneLow,geneQ1,geneMedian,geneQ3,geneHigh,geneTicks,geneTickLabels,geneBrackets);

groupWords.forEach((words,gi)=>{
  words.forEach((w,wi)=>{
    const lb=mk('text',{transform:'translate('+(boxX(gi*2+wi)+2.5)+',588) rotate(-90)','text-anchor':'end','font-size':7},svg);
    lb.textContent=w;
    
    
  });
});
</script>
</body>
</html>
